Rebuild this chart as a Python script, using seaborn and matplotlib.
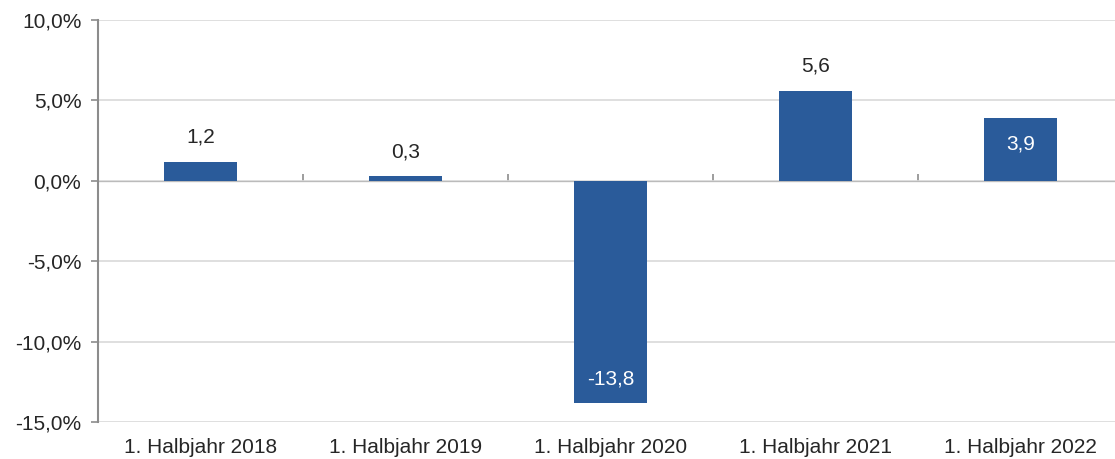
import pandas as pd
import matplotlib
matplotlib.use('Agg')
import matplotlib.pyplot as plt
import matplotlib.ticker as ticker
import seaborn as sns

# Data
periods = ['1. Halbjahr 2018', '1. Halbjahr 2019', '1. Halbjahr 2020',
           '1. Halbjahr 2021', '1. Halbjahr 2022']
change = [1.2, 0.3, -13.8, 5.6, 3.9]
# which labels sit inside the bar (white text)
inside = [False, False, True, False, True]

df = pd.DataFrame({'Periode': periods, 'Veraenderung': change})

sns.set_style('white')
plt.rcParams['font.family'] = ['Liberation Sans', 'DejaVu Sans']

bar_color = '#2a5b9a'
axis_grey = '#8c8c8c'
text_color = '#262626'
fs = 15

fig = plt.figure(figsize=(11.15, 4.59), dpi=100)
ax = fig.add_axes([98 / 1115, 1 - 422 / 459, 1025 / 1115, 402 / 459])

sns.barplot(data=df, x='Periode', y='Veraenderung', color=bar_color,
            width=0.36, saturation=1, linewidth=0, ax=ax, zorder=3)

ax.set_xlim(-0.5, len(periods) - 0.5)
ax.set_ylim(-15, 10)
ax.yaxis.set_major_locator(ticker.MultipleLocator(5))
ax.yaxis.set_major_formatter(
    ticker.FuncFormatter(lambda v, p: f'{v:.1f}%'.replace('.', ',')))
ax.grid(axis='y', color='#d9d9d9', linewidth=1.2, zorder=0)
ax.set_xlabel('')
ax.set_ylabel('')

for side in ['top', 'right', 'bottom']:
    ax.spines[side].set_visible(False)
ax.spines['left'].set_color(axis_grey)
ax.spines['left'].set_linewidth(1.5)
ax.tick_params(axis='y', left=True, length=5, width=1.2, color=axis_grey,
               labelsize=fs, labelcolor=text_color, pad=7)
ax.tick_params(axis='x', bottom=False, labelsize=fs, labelcolor=text_color, pad=8)

# zero line with category separators
zero_pos = 15 / 25
sec = ax.secondary_xaxis(zero_pos)
sec.set_xticks([i + 0.5 for i in range(len(periods) - 1)])
sec.set_xticklabels([])
sec.tick_params(axis='x', direction='out', length=5, width=1.2, color=axis_grey)
sec.spines['bottom'].set_color(axis_grey)
sec.spines['bottom'].set_linewidth(1.5)
sec.spines['bottom'].set_zorder(4)

for i, (val, ins) in enumerate(zip(change, inside)):
    txt = f'{val:.1f}'.replace('.', ',')
    if ins:
        if val < 0:
            ax.annotate(txt, (i, val), xytext=(0, 17), textcoords='offset points',
                        ha='center', va='center', color='white', fontsize=fs, zorder=5)
        else:
            ax.annotate(txt, (i, val), xytext=(0, -18.5), textcoords='offset points',
                        ha='center', va='center', color='white', fontsize=fs, zorder=5)
    else:
        ax.annotate(txt, (i, val), xytext=(0, 17.5), textcoords='offset points',
                    ha='center', va='center', color=text_color, fontsize=fs, zorder=5)

fig.savefig('out.png', dpi=100)
